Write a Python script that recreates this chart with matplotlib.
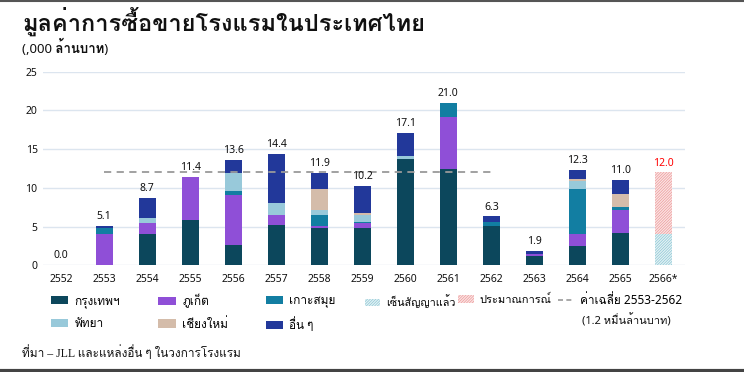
import numpy as np
import matplotlib
matplotlib.use('Agg')
import matplotlib.pyplot as plt
from matplotlib import font_manager
from matplotlib.ft2font import FT2Font
from matplotlib.patches import Patch
from matplotlib.lines import Line2D

# look for any installed font with Thai glyphs
thai = None
for f in font_manager.fontManager.ttflist:
    try:
        if ord('ก') in FT2Font(f.fname).get_charmap():
            thai = f.name
            break
    except Exception:
        pass
# latin / digits from Noto Sans, Thai glyphs fall through to the Thai font
fams = ['Noto Sans'] + ([thai] if thai else []) + ['DejaVu Sans']
plt.rcParams['font.family'] = fams
plt.rcParams['hatch.linewidth'] = 0.5

years = ['2552', '2553', '2554', '2555', '2556', '2557', '2558', '2559',
         '2560', '2561', '2562', '2563', '2564', '2565', '2566*']
totals = [0.0, 5.1, 8.7, 11.4, 13.6, 14.4, 11.9, 10.2, 17.1, 21.0, 6.3, 1.9, 12.3, 11.0, 12.0]

# stacked segments, ,000 million baht (2552-2565)
bangkok = [0, 0, 4.0, 5.8, 2.6, 5.2, 4.8, 4.8, 13.7, 12.4, 5.05, 1.2, 2.5, 4.2]
phuket = [0, 4.1, 1.5, 5.6, 6.5, 1.3, 0.25, 0.6, 0, 6.8, 0, 0.3, 1.5, 3.0]
samui = [0, 0.65, 0, 0, 0.5, 0, 1.5, 0.2, 0, 1.8, 0.6, 0, 5.9, 0.35]
pattaya = [0, 0, 0.6, 0, 2.35, 1.6, 0.55, 0.95, 0.4, 0, 0, 0, 0.95, 0]
chiangmai = [0, 0, 0, 0, 0, 0, 2.7, 0.25, 0, 0, 0, 0, 0.35, 1.65]
others = [0, 0.35, 2.6, 0, 1.65, 6.3, 2.1, 3.4, 3.0, 0, 0.65, 0.4, 1.1, 1.8]

signed_2566 = 4.0
estimate_2566 = 8.0
avg = 12.0

series = [
    ('กรุงเทพฯ', bangkok, '#0c475c'),
    ('ภูเก็ต', phuket, '#8f4fd7'),
    ('เกาะสมุย', samui, '#127ea2'),
    ('พัทยา', pattaya, '#98c9da'),
    ('เชียงใหม่', chiangmai, '#d4bcaa'),
    ('อื่น ๆ', others, '#22389a'),
]
signed_style = dict(facecolor='#e4f2f5', edgecolor='#8cc6d4', hatch='////////////')
est_style = dict(facecolor='#fbe4e4', edgecolor='#ec9a9a', hatch='////////////')

fig = plt.figure(figsize=(7.44, 3.72), dpi=100)
ax = fig.add_axes([0.058, 0.287, 0.863, 0.52])

x = np.arange(len(years))
xs = x[:-1]
bottom = np.zeros(len(xs))
for name, vals, col in series:
    v = np.array(vals)
    ax.bar(xs, v, 0.4, bottom=bottom, color=col, edgecolor='none', zorder=3)
    bottom += v

ax.bar(x[-1], signed_2566, 0.4, linewidth=0, zorder=3, **signed_style)
ax.bar(x[-1], estimate_2566, 0.4, bottom=signed_2566, linewidth=0, zorder=3, **est_style)

ax.plot([x[1], x[10]], [avg, avg], ls=(0, (4, 3)), color='#9a9a9a', lw=1.3, zorder=4)

for i, t in enumerate(totals):
    c = 'red' if i == len(totals) - 1 else '#111111'
    ax.text(x[i], t + 0.5, f'{t:.1f}', ha='center', va='bottom', fontsize=7.5,
            color=c, zorder=5)

ax.set_xlim(-0.42, len(years) - 1 + 0.51)
ax.set_ylim(0, 25)
ax.set_yticks([0, 5, 10, 15, 20, 25])
ax.set_xticks(x)
ax.set_xticklabels(years)
ax.tick_params(length=0, labelsize=7.5, colors='#111111')
ax.tick_params(axis='y', pad=4)
ax.tick_params(axis='x', pad=6)
ax.grid(axis='y', color='#dce5ef', lw=1, zorder=0)
for s in ax.spines.values():
    s.set_visible(False)

fig.text(0.030, 0.918, 'มูลค่าการซื้อขายโรงแรมในประเทศไทย', fontsize=17,
         fontweight='bold', va='baseline', color='#111111')
fig.text(0.030, 0.858, '(,000 ล้านบาท)', fontsize=9.5, fontweight='bold',
         va='baseline', color='#111111')

# legend, one column at a time
leg_kw = dict(loc='upper left', frameon=False, fontsize=8.5, handlelength=1.45,
              handleheight=0.7, handletextpad=0.55, labelspacing=0.8,
              borderaxespad=0, borderpad=0)
cols = [
    (0.068, [series[0], series[3]]),
    (0.213, [series[1], series[4]]),
    (0.357, [series[2], series[5]]),
]
ytop = 0.21
for xpos, items in cols:
    hs = [Patch(facecolor=c, edgecolor='none') for _, _, c in items]
    fig.legend(hs, [n for n, _, _ in items], bbox_to_anchor=(xpos, ytop), **leg_kw)
leg_kw['fontsize'] = 7.8
fig.legend([Patch(lw=0, **signed_style)], ['เซ็นสัญญาแล้ว'],
           bbox_to_anchor=(0.490, ytop - 0.004), **leg_kw)
leg_kw['fontsize'] = 8
fig.legend([Patch(lw=0, **est_style)], ['ประมาณการณ์'],
           bbox_to_anchor=(0.615, ytop - 0.002), **leg_kw)
leg_kw['fontsize'] = 8.5
leg_kw['handlelength'] = 1.3
fig.legend([Line2D([], [], ls=(0, (3, 2)), color='#9a9a9a', lw=1.2)],
           ['ค่าเฉลี่ย 2553-2562'], bbox_to_anchor=(0.750, ytop), **leg_kw)
fig.text(0.782, 0.128, '(1.2 หมื่นล้านบาท)', fontsize=8, color='#111111')

fig.text(0.030, 0.040, 'ที่มา – JLL และแหล่งอื่น ๆ ในวงการโรงแรม', fontsize=8.5,
         color='#111111', family=['Liberation Serif'] + fams[1:])

# thin frame lines at top and bottom
fig.add_artist(Line2D([0, 1], [0.998, 0.998], color='#555555', lw=1.5))
fig.add_artist(Line2D([0, 1], [0.004, 0.004], color='#444444', lw=3))

fig.savefig('out.png', dpi=100)
